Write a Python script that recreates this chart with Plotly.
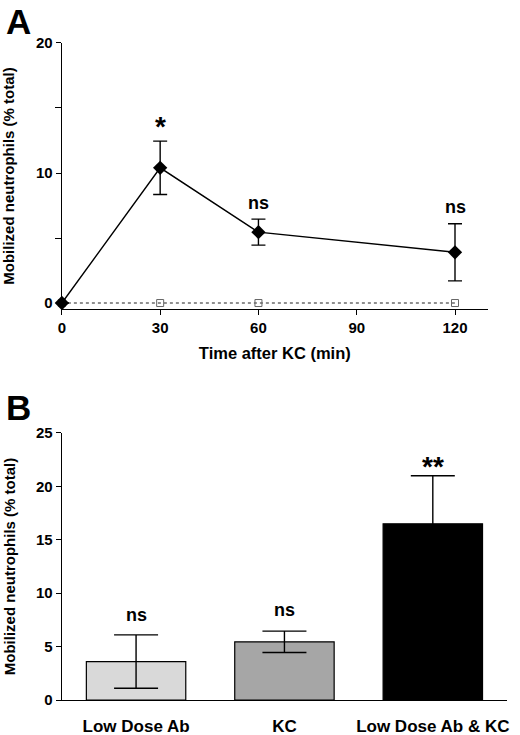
import plotly.graph_objects as go

# Panel A: time course
time_min = [0, 30, 60, 120]
kc_mean = [0, 10.4, 5.45, 3.9]
kc_err = [0, 2.05, 1.0, 2.2]
ctrl_time = [0, 30, 60, 120]
ctrl_mean = [0, 0, 0, 0]
a_labels = ["*", "ns", "ns"]
a_label_x = [30, 60, 120]
a_label_y = [13.6, 7.7, 7.4]

# Panel B: bars
groups = ["Low Dose Ab", "KC", "Low Dose Ab & KC"]
bar_mean = [3.6, 5.45, 16.5]
bar_err = [2.5, 1.0, 4.5]
bar_colors = ["#d9d9d9", "#a6a6a6", "#000000"]
b_labels = ["ns", "ns", "**"]
b_label_y = [8.0, 8.4, 21.9]

FONT = "Arial, Liberation Sans, sans-serif"

fig = go.Figure()

# control (dotted, open squares)
fig.add_trace(go.Scatter(
    x=ctrl_time, y=ctrl_mean, mode="lines+markers",
    line=dict(color="#222222", width=1.2, dash="dot"),
    marker=dict(symbol="square-open", size=7, color="#666666", line=dict(width=1)),
    cliponaxis=False, showlegend=False, xaxis="x", yaxis="y"))

# KC (solid, diamonds)
fig.add_trace(go.Scatter(
    x=time_min, y=kc_mean, mode="lines+markers",
    line=dict(color="black", width=1.4),
    marker=dict(symbol="diamond", size=11, color="black"),
    error_y=dict(type="data", array=kc_err, color="black", thickness=1.4, width=7),
    cliponaxis=False, showlegend=False, xaxis="x", yaxis="y"))

fig.add_trace(go.Bar(
    x=groups, y=bar_mean, marker=dict(color=bar_colors, line=dict(color="black", width=1.2)),
    width=0.67,
    error_y=dict(type="data", array=bar_err, color="black", thickness=1.4, width=22),
    showlegend=False, xaxis="x2", yaxis="y2"))

axis_common = dict(showline=True, linecolor="black", linewidth=1.4, showgrid=False, zeroline=False,
                   automargin=False,
                   ticks="outside", ticklen=5, tickwidth=1.4, tickcolor="black",
                   tickfont=dict(family=FONT, size=15, color="black", weight="bold"))
title_font = dict(family=FONT, size=15, color="black", weight="bold")

fig.update_layout(
    width=520, height=735,
    margin=dict(l=0, r=0, t=0, b=0),
    paper_bgcolor="white", plot_bgcolor="white",
    xaxis=dict(domain=[0.119, 0.938], anchor="y", range=[0, 130],
               tickvals=[0, 30, 60, 90, 120],
               title=dict(text="Time after KC (min)", standoff=12,
                          font=dict(family=FONT, size=16.5, color="black", weight="bold")),
               **axis_common),
    yaxis=dict(domain=[0.5796, 0.9415], anchor="x", range=[-0.46, 20],
               tickvals=[0, 10, 20],
               minor=dict(tickvals=[5, 15], ticks="outside", ticklen=6, tickcolor="black", tickwidth=1.4),
               title=dict(text="Mobilized neutrophils (% total)", standoff=19, font=title_font),
               **axis_common),
    xaxis2=dict(domain=[0.119, 0.975], anchor="y2", range=[-0.5, 2.5],
                **{**axis_common, "ticks": "", "ticklabelstandoff": 10,
                   "tickfont": dict(family=FONT, size=17, color="black", weight="bold")}),
    yaxis2=dict(domain=[0.0476, 0.4109], anchor="x2", range=[0, 25],
                tickvals=[0, 5, 10, 15, 20, 25],
                title=dict(text="Mobilized neutrophils (% total)", standoff=16, font=title_font),
                **axis_common),
)

for txt, xv, yv in zip(a_labels, a_label_x, a_label_y):
    fig.add_annotation(x=xv, y=yv, xref="x", yref="y", text=txt, showarrow=False,
                       font=dict(family=FONT, size=28 if txt == "*" else 18, color="black", weight="bold"))

for txt, g, yv in zip(b_labels, groups, b_label_y):
    fig.add_annotation(x=g, y=yv, xref="x2", yref="y2", text=txt, showarrow=False,
                       font=dict(family=FONT, size=28 if "*" in txt else 18, color="black", weight="bold"))

fig.add_annotation(x=0.008, y=1.0, xref="paper", yref="paper", text="A", showarrow=False,
                   xanchor="left", yanchor="top",
                   font=dict(family=FONT, size=35, color="black", weight="bold"))
fig.add_annotation(x=0.008, y=0.475, xref="paper", yref="paper", text="B", showarrow=False,
                   xanchor="left", yanchor="top",
                   font=dict(family=FONT, size=35, color="black", weight="bold"))

# page body has a default margin; drop it so the figure sits at the window corner
fig.write_html("out.html", config={"displayModeBar": False},
               post_script="document.body.style.margin='0';")
